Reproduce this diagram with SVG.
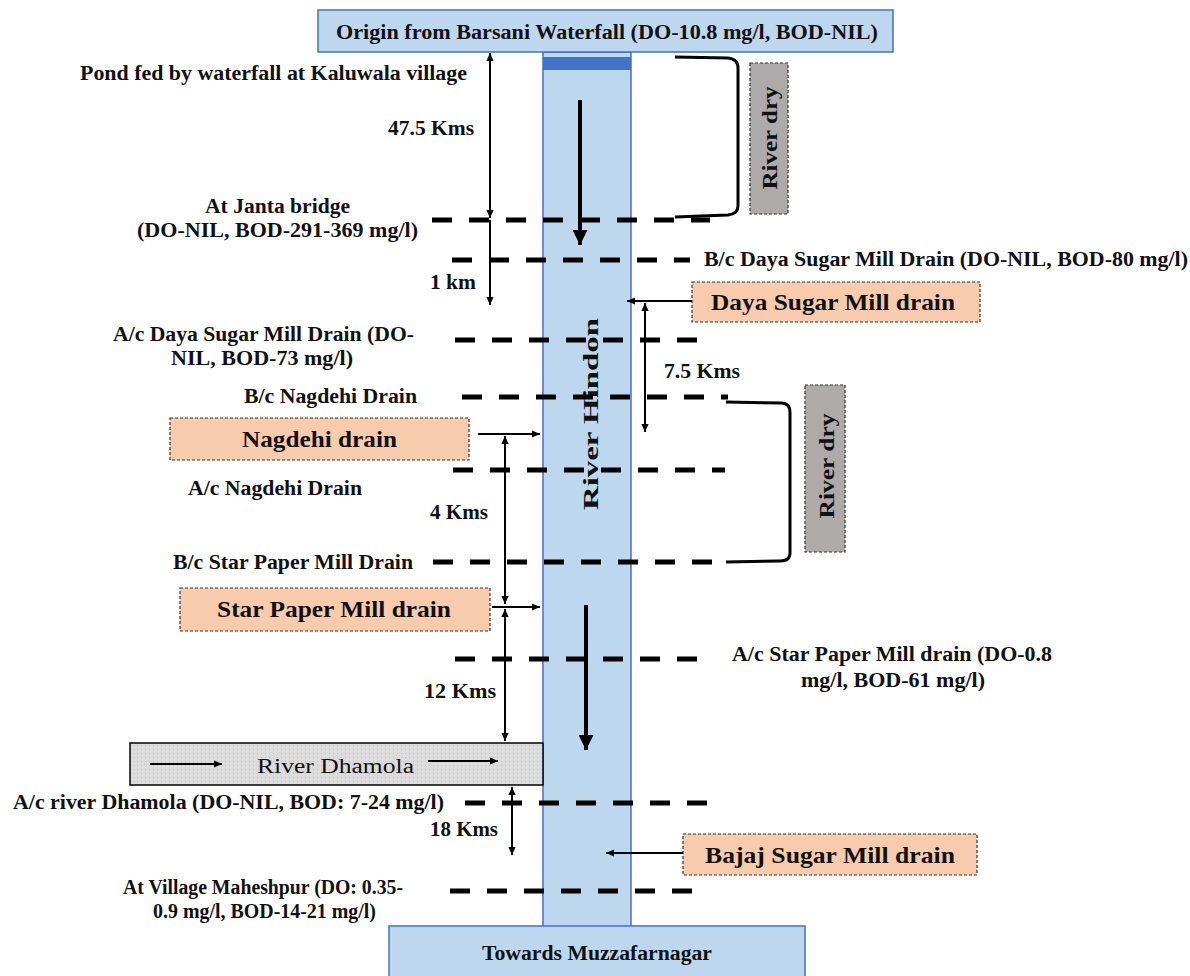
<svg xmlns="http://www.w3.org/2000/svg" width="1190" height="976" viewBox="0 0 1190 976">
<defs>
<style>
.t{font-family:'Liberation Serif','DejaVu Serif',serif;font-weight:700;font-size:20px;fill:#111}
.b{font-size:23px}
.river{fill:#bdd7ee;stroke:#4472c4;stroke-width:1.5}
.drain{fill:#f8cbad;stroke:#333;stroke-width:1.2;stroke-dasharray:3 2}
.dry{fill:#aeaaaa;stroke:#333;stroke-width:1.2;stroke-dasharray:3 2}
.dash{stroke:#000;stroke-width:5;stroke-dasharray:20 17;fill:none}
.thin{stroke:#000;stroke-width:2;fill:none}
.thick{stroke:#000;stroke-width:4;fill:none}
.br{stroke:#000;stroke-width:3;fill:none}
</style>
<marker id="ah" viewBox="0 0 10 10" refX="10" refY="5" markerWidth="9" markerHeight="8" markerUnits="userSpaceOnUse" orient="auto-start-reverse"><path d="M0,0.5 L10,5 L0,9.5 z" fill="#000"/></marker>
<marker id="ahb" viewBox="0 0 10 10" refX="10" refY="5" markerWidth="18" markerHeight="15" markerUnits="userSpaceOnUse" orient="auto"><path d="M0,0 L10,5 L0,10 z" fill="#000"/></marker>
<pattern id="dots" width="4" height="4" patternUnits="userSpaceOnUse"><rect width="4" height="4" fill="#dcdcdc"/><rect x="1" y="1" width="1" height="1" fill="#c4c4c4"/></pattern>
</defs>

<g id="river-hindon">
<rect class="river" x="543" y="52" width="88" height="876"/>
<rect x="543" y="57" width="88" height="13" fill="#4472c4"/>
<text class="t" font-size="31" text-anchor="middle" textLength="192" lengthAdjust="spacingAndGlyphs" transform="translate(598,414) rotate(-90)">River Hindon</text>
</g>

<g id="origin">
<rect class="river" x="318" y="10" width="575" height="42"/>
<text class="t" x="336" y="39" textLength="542" lengthAdjust="spacingAndGlyphs">Origin from  Barsani Waterfall (DO-10.8 mg/l, BOD-NIL)</text>
</g>

<g id="towards">
<rect class="river" x="389" y="926" width="416" height="60"/>
<text class="t" x="482" y="960" textLength="230" lengthAdjust="spacingAndGlyphs">Towards Muzzafarnagar</text>
</g>

<g id="dry1">
<rect class="dry" x="750" y="63" width="38" height="151"/>
<text class="t" font-size="24" text-anchor="middle" textLength="103" lengthAdjust="spacingAndGlyphs" transform="translate(777,138) rotate(-90)">River dry</text>
</g>
<g id="dry2">
<rect class="dry" x="805" y="385" width="40" height="167"/>
<text class="t" font-size="24" text-anchor="middle" textLength="105" lengthAdjust="spacingAndGlyphs" transform="translate(834,466) rotate(-90)">River dry</text>
</g>

<g id="daya-drain">
<rect class="drain" x="692" y="282" width="288" height="40"/>
<text class="t b" x="711" y="310" textLength="244" lengthAdjust="spacingAndGlyphs">Daya Sugar Mill drain</text>
</g>
<g id="nagdehi-drain">
<rect class="drain" x="170" y="418" width="299" height="42"/>
<text class="t b" x="242" y="447" textLength="155" lengthAdjust="spacingAndGlyphs">Nagdehi drain</text>
</g>
<g id="star-drain">
<rect class="drain" x="180" y="588" width="310" height="43"/>
<text class="t b" x="217" y="617" textLength="234" lengthAdjust="spacingAndGlyphs">Star Paper Mill drain</text>
</g>
<g id="bajaj-drain">
<rect class="drain" x="683" y="834" width="294" height="41"/>
<text class="t b" x="705" y="863" textLength="250" lengthAdjust="spacingAndGlyphs">Bajaj Sugar Mill drain</text>
</g>
<g id="dhamola">
<rect x="130" y="743" width="413" height="42" fill="url(#dots)" stroke="#000" stroke-width="1.5"/>
<text class="t" style="font-weight:400" font-size="24" x="257" y="773" textLength="157" lengthAdjust="spacingAndGlyphs">River Dhamola</text>
<line class="thin" stroke-width="2.5" x1="150" y1="764" x2="222" y2="764" marker-end="url(#ah)"/>
<line class="thin" stroke-width="2.5" x1="428" y1="761" x2="498" y2="761" marker-end="url(#ah)"/>
</g>

<g id="labels">
<text class="t" x="80" y="80" textLength="387" lengthAdjust="spacingAndGlyphs">Pond fed by waterfall at Kaluwala village</text>
<text class="t" x="388" y="135" textLength="86" lengthAdjust="spacingAndGlyphs">47.5 Kms</text>
<text class="t" x="205" y="213" textLength="145" lengthAdjust="spacingAndGlyphs">At Janta bridge</text>
<text class="t" x="137" y="237" textLength="281" lengthAdjust="spacingAndGlyphs">(DO-NIL, BOD-291-369 mg/l)</text>
<text class="t" x="704" y="266" textLength="484" lengthAdjust="spacingAndGlyphs">B/c Daya Sugar Mill Drain (DO-NIL, BOD-80 mg/l)</text>
<text class="t" x="430" y="289" textLength="46" lengthAdjust="spacingAndGlyphs">1 km</text>
<text class="t" x="664" y="378" textLength="76" lengthAdjust="spacingAndGlyphs">7.5 Kms</text>
<text class="t" x="113" y="341" textLength="301" lengthAdjust="spacingAndGlyphs">A/c Daya Sugar Mill Drain (DO-</text>
<text class="t" x="171" y="365" textLength="182" lengthAdjust="spacingAndGlyphs">NIL, BOD-73 mg/l)</text>
<text class="t" x="244" y="403" textLength="173" lengthAdjust="spacingAndGlyphs">B/c Nagdehi Drain</text>
<text class="t" x="188" y="495" textLength="174" lengthAdjust="spacingAndGlyphs">A/c Nagdehi Drain</text>
<text class="t" x="430" y="519" textLength="58" lengthAdjust="spacingAndGlyphs">4 Kms</text>
<text class="t" x="173" y="569" textLength="240" lengthAdjust="spacingAndGlyphs">B/c Star Paper Mill Drain</text>
<text class="t" x="424" y="698" textLength="72" lengthAdjust="spacingAndGlyphs">12 Kms</text>
<text class="t" x="732" y="661" textLength="320" lengthAdjust="spacingAndGlyphs">A/c Star Paper Mill drain (DO-0.8</text>
<text class="t" x="801" y="687" textLength="184" lengthAdjust="spacingAndGlyphs">mg/l, BOD-61 mg/l)</text>
<text class="t" x="13" y="809" textLength="431" lengthAdjust="spacingAndGlyphs">A/c river Dhamola (DO-NIL, BOD: 7-24 mg/l)</text>
<text class="t" x="430" y="836" textLength="68" lengthAdjust="spacingAndGlyphs">18 Kms</text>
<text class="t" x="123" y="894" textLength="280" lengthAdjust="spacingAndGlyphs">At Village Maheshpur (DO: 0.35-</text>
<text class="t" x="153" y="918" textLength="223" lengthAdjust="spacingAndGlyphs">0.9 mg/l, BOD-14-21 mg/l)</text>
</g>

<g id="connectors">
<line class="dash" x1="432" y1="220" x2="710" y2="220"/>
<line class="dash" x1="452" y1="260" x2="690" y2="260"/>
<line class="dash" x1="455" y1="340" x2="710" y2="340"/>
<line class="dash" x1="462" y1="397" x2="728" y2="397"/>
<line class="dash" x1="453" y1="470" x2="725" y2="470"/>
<line class="dash" x1="433" y1="562" x2="723" y2="562"/>
<line class="dash" x1="455" y1="659" x2="705" y2="659"/>
<line class="dash" x1="465" y1="803" x2="718" y2="803"/>
<line class="dash" x1="450" y1="891" x2="703" y2="891"/>

<path class="br" d="M675,57 L728,58 Q738,59 738,68 L738,206 Q738,214 728,215 L675,217"/>
<path class="br" d="M726,402 L782,403 Q790,404 790,412 L790,553 Q790,561 780,561 L726,562"/>

<line class="thick" x1="580" y1="100" x2="580" y2="245" marker-end="url(#ahb)"/>
<line class="thick" x1="586" y1="605" x2="586" y2="750" marker-end="url(#ahb)"/>

<line class="thin" x1="490" y1="53" x2="490" y2="218" marker-start="url(#ah)" marker-end="url(#ah)"/>
<line class="thin" x1="490" y1="220" x2="490" y2="305" marker-end="url(#ah)"/>
<line class="thin" x1="692" y1="301" x2="627" y2="301" marker-end="url(#ah)"/>
<line class="thin" x1="645" y1="303" x2="645" y2="432" marker-start="url(#ah)" marker-end="url(#ah)"/>
<line class="thin" x1="478" y1="434" x2="540" y2="434" marker-end="url(#ah)"/>
<line class="thin" x1="505" y1="436" x2="505" y2="604" marker-start="url(#ah)" marker-end="url(#ah)"/>
<line class="thin" x1="492" y1="607" x2="540" y2="607" marker-end="url(#ah)"/>
<line class="thin" x1="505" y1="609" x2="505" y2="741" marker-start="url(#ah)" marker-end="url(#ah)"/>
<line class="thin" x1="512" y1="787" x2="512" y2="855" marker-start="url(#ah)" marker-end="url(#ah)"/>
<line class="thin" x1="683" y1="853" x2="606" y2="853" marker-end="url(#ah)"/>
</g>
</svg>
